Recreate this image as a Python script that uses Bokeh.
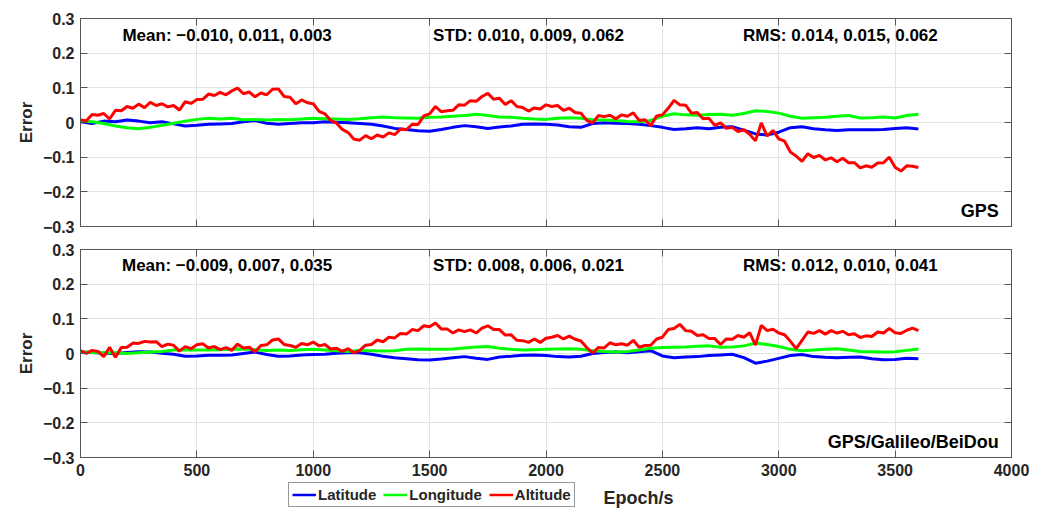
from bokeh.plotting import figure
from bokeh.layouts import column
from bokeh.models import Label, Legend, LegendItem, LinearAxis, FixedTicker
from bokeh.embed import file_html
from bokeh.resources import INLINE

# ---------------- data ----------------
epoch_fine = list(range(0, 3601, 25))     # altitude samples
epoch_coarse = list(range(0, 3601, 50))   # latitude / longitude samples

gps_alt = [
    0.007, 0.005, 0.023, 0.021, 0.026, 0.010, 0.035, 0.034,
    0.046, 0.041, 0.053, 0.043, 0.058, 0.049, 0.054, 0.045,
    0.049, 0.036, 0.060, 0.055, 0.066, 0.067, 0.082, 0.078,
    0.087, 0.080, 0.091, 0.099, 0.083, 0.088, 0.074, 0.085,
    0.080, 0.096, 0.097, 0.075, 0.073, 0.054, 0.065, 0.057,
    0.054, 0.032, 0.025, 0.006, -0.002, -0.020, -0.029, -0.048,
    -0.051, -0.038, -0.047, -0.036, -0.042, -0.030, -0.035, -0.019,
    -0.021, -0.005, -0.006, 0.019, 0.025, 0.046, 0.031, 0.034,
    0.035, 0.051, 0.050, 0.063, 0.061, 0.075, 0.084, 0.067,
    0.070, 0.052, 0.063, 0.046, 0.043, 0.033, 0.042, 0.039,
    0.051, 0.046, 0.049, 0.035, 0.041, 0.029, 0.027, 0.006,
    -0.001, 0.020, 0.017, 0.021, 0.011, 0.022, 0.018, 0.028,
    0.006, 0.008, -0.009, 0.019, 0.022, 0.041, 0.064, 0.051,
    0.050, 0.027, 0.029, 0.011, 0.012, -0.008, -0.001, -0.017,
    -0.014, -0.026, -0.021, -0.034, -0.053, -0.001, -0.039, -0.023,
    -0.047, -0.054, -0.085, -0.097, -0.112, -0.090, -0.101, -0.095,
    -0.108, -0.102, -0.113, -0.103, -0.116, -0.116, -0.131, -0.125,
    -0.129, -0.117, -0.116, -0.100, -0.129, -0.140, -0.125, -0.126,
    -0.130,
]

gps_lat = [
    0.002, -0.003, 0.004, 0.002, 0.007, 0.004, -0.001, 0.002,
    -0.004, -0.010, -0.008, -0.005, -0.004, -0.003, 0.002, 0.006,
    -0.002, -0.005, -0.003, -0.001, -0.001, 0.002, 0.001, -0.001,
    -0.003, -0.005, -0.010, -0.017, -0.020, -0.024, -0.025, -0.020,
    -0.014, -0.009, -0.012, -0.017, -0.013, -0.010, -0.005, -0.004,
    -0.005, -0.007, -0.012, -0.014, -0.003, -0.001, -0.002, -0.003,
    -0.005, -0.009, -0.014, -0.020, -0.018, -0.015, -0.018, -0.014,
    -0.012, -0.022, -0.033, -0.036, -0.028, -0.015, -0.012, -0.018,
    -0.021, -0.023, -0.021, -0.021, -0.021, -0.020, -0.017, -0.015,
    -0.019,
]

gps_lon = [
    0.004, 0.002, -0.003, -0.010, -0.015, -0.018, -0.014, -0.008,
    -0.002, 0.004, 0.009, 0.012, 0.010, 0.012, 0.008, 0.009,
    0.007, 0.009, 0.008, 0.010, 0.012, 0.011, 0.010, 0.009,
    0.011, 0.014, 0.016, 0.014, 0.013, 0.012, 0.015, 0.016,
    0.018, 0.020, 0.024, 0.020, 0.016, 0.015, 0.012, 0.010,
    0.009, 0.012, 0.014, 0.012, 0.008, 0.007, 0.006, 0.003,
    0.002, 0.006, 0.018, 0.025, 0.022, 0.021, 0.023, 0.024,
    0.021, 0.026, 0.034, 0.032, 0.027, 0.018, 0.012, 0.014,
    0.015, 0.018, 0.020, 0.013, 0.014, 0.016, 0.013, 0.020,
    0.024,
]

gce_alt = [
    0.008, 0.000, 0.009, 0.006, -0.009, 0.018, -0.011, 0.017,
    0.018, 0.030, 0.029, 0.035, 0.033, 0.034, 0.020, 0.027,
    0.024, 0.007, 0.020, 0.014, 0.025, 0.028, 0.016, 0.020,
    0.011, 0.017, 0.009, 0.027, 0.016, 0.018, 0.005, 0.023,
    0.025, 0.039, 0.042, 0.026, 0.023, 0.018, 0.029, 0.025,
    0.033, 0.022, 0.026, 0.013, 0.015, 0.006, 0.014, 0.002,
    0.009, 0.024, 0.026, 0.039, 0.034, 0.047, 0.045, 0.058,
    0.056, 0.069, 0.066, 0.080, 0.077, 0.088, 0.071, 0.071,
    0.059, 0.068, 0.063, 0.068, 0.059, 0.073, 0.080, 0.069,
    0.069, 0.053, 0.054, 0.038, 0.037, 0.032, 0.042, 0.032,
    0.044, 0.047, 0.052, 0.042, 0.050, 0.041, 0.036, 0.017,
    0.002, 0.017, 0.016, 0.031, 0.025, 0.028, 0.024, 0.038,
    0.018, 0.023, 0.024, 0.042, 0.047, 0.069, 0.072, 0.084,
    0.066, 0.064, 0.052, 0.054, 0.043, 0.043, 0.026, 0.042,
    0.041, 0.052, 0.047, 0.060, 0.024, 0.081, 0.066, 0.070,
    0.059, 0.054, 0.035, 0.014, 0.038, 0.062, 0.058, 0.066,
    0.056, 0.066, 0.059, 0.064, 0.054, 0.057, 0.046, 0.051,
    0.049, 0.062, 0.059, 0.072, 0.060, 0.058, 0.067, 0.073,
    0.066,
]

gce_lat = [
    0.004, 0.003, 0.001, 0.000, 0.003, 0.005, 0.004, 0.001,
    -0.002, -0.008, -0.007, -0.005, -0.005, -0.004, 0.000, 0.004,
    -0.003, -0.008, -0.007, -0.004, -0.003, -0.002, 0.001, 0.002,
    0.002, -0.002, -0.008, -0.012, -0.015, -0.018, -0.019, -0.016,
    -0.012, -0.009, -0.014, -0.017, -0.010, -0.008, -0.005, -0.004,
    -0.006, -0.009, -0.010, -0.008, 0.000, 0.003, 0.004, 0.002,
    0.005, 0.008, -0.007, -0.012, -0.010, -0.009, -0.006, -0.004,
    -0.002, -0.012, -0.028, -0.022, -0.014, -0.006, -0.003, -0.009,
    -0.011, -0.012, -0.011, -0.010, -0.015, -0.018, -0.017, -0.014,
    -0.015,
]

gce_lon = [
    0.005, 0.003, 0.002, 0.002, 0.000, 0.002, 0.004, 0.006,
    0.010, 0.011, 0.010, 0.010, 0.011, 0.012, 0.013, 0.011,
    0.009, 0.010, 0.009, 0.011, 0.012, 0.010, 0.008, 0.006,
    0.009, 0.008, 0.007, 0.008, 0.012, 0.013, 0.012, 0.012,
    0.013, 0.016, 0.019, 0.020, 0.015, 0.012, 0.010, 0.011,
    0.012, 0.013, 0.014, 0.012, 0.008, 0.006, 0.004, 0.006,
    0.010, 0.015, 0.017, 0.018, 0.019, 0.021, 0.022, 0.018,
    0.019, 0.022, 0.030, 0.026, 0.020, 0.012, 0.008, 0.010,
    0.012, 0.014, 0.010, 0.006, 0.005, 0.004, 0.005, 0.009,
    0.013,
]

stats_gps = ["Mean: \u22120.010, 0.011, 0.003", "STD: 0.010, 0.009, 0.062", "RMS: 0.014, 0.015, 0.062"]
stats_gce = ["Mean: \u22120.009, 0.007, 0.035", "STD: 0.008, 0.006, 0.021", "RMS: 0.012, 0.010, 0.041"]
stats_x = [630, 1925, 3265]
panel_names = ["GPS", "GPS/Galileo/BeiDou"]
series_names = ["Latitude", "Longitude", "Altitude"]
series_colors = ["#0000FF", "#00FF00", "#FF0000"]
x_title = "Epoch/s"
y_title = "Error"

x_ticks = [0, 500, 1000, 1500, 2000, 2500, 3000, 3500, 4000]
y_ticks = [-0.3, -0.2, -0.1, 0.0, 0.1, 0.2, 0.3]
y_labels = ["\u22120.3", "\u22120.2", "\u22120.1", "0", "0.1", "0.2", "0.3"]

FONT = "Liberation Sans"
TXT = "#262626"
EDGE = "#555555"


def style_axis(ax, ticks, show_labels):
    ax.ticker = FixedTicker(ticks=ticks)
    ax.major_tick_in = 7
    ax.major_tick_out = 0
    ax.minor_tick_in = 0
    ax.minor_tick_out = 0
    ax.axis_line_color = EDGE
    ax.major_tick_line_color = EDGE
    ax.major_label_text_font = FONT
    ax.major_label_text_font_style = "bold"
    if show_labels:
        ax.major_label_text_color = TXT
        ax.major_label_text_font_size = "16px"
        ax.major_label_standoff = 6
    else:
        ax.major_label_overrides = {t: "" for t in ticks}
        ax.major_label_text_color = None
        ax.major_label_text_font_size = "1px"
        ax.major_label_standoff = 0


def make_panel(lat, lon, alt, stats, name, stat_y, top_border, bottom_border, show_x):
    p = figure(frame_width=931, frame_height=208, x_range=(0, 4000), y_range=(-0.3, 0.3),
               output_backend="svg", toolbar_location=None,
               min_border_left=80, min_border_right=35,
               min_border_top=top_border, min_border_bottom=bottom_border)
    p.outline_line_color = EDGE
    p.background_fill_color = "white"
    p.border_fill_color = "white"
    for g in (p.xgrid, p.ygrid):
        g.grid_line_color = "#e3e3e3"
        g.grid_line_width = 1
    p.xgrid.ticker = FixedTicker(ticks=x_ticks)
    p.ygrid.ticker = FixedTicker(ticks=y_ticks)

    style_axis(p.xaxis[0], x_ticks, show_x)
    style_axis(p.yaxis[0], y_ticks, True)
    p.yaxis[0].major_label_overrides = {t: l for t, l in zip(y_ticks, y_labels)}
    p.yaxis[0].axis_label = y_title
    p.yaxis[0].axis_label_text_font = FONT
    p.yaxis[0].axis_label_text_font_style = "bold"
    p.yaxis[0].axis_label_text_font_size = "17px"
    p.yaxis[0].axis_label_text_color = TXT
    p.yaxis[0].axis_label_standoff = 4

    top_ax = LinearAxis()
    style_axis(top_ax, x_ticks, False)
    p.add_layout(top_ax, "above")
    right_ax = LinearAxis()
    style_axis(right_ax, y_ticks, False)
    p.add_layout(right_ax, "right")

    p.line(epoch_coarse, lat, line_color=series_colors[0], line_width=3)
    p.line(epoch_coarse, lon, line_color=series_colors[1], line_width=3)
    p.line(epoch_fine, alt, line_color=series_colors[2], line_width=3)

    for sx, st in zip(stats_x, stats):
        p.add_layout(Label(x=sx, y=stat_y, text=st, text_align="center", text_baseline="middle",
                           text_font=FONT, text_font_style="bold", text_font_size="17px",
                           text_color="black"))
    p.add_layout(Label(x=3945, y=-0.255, text=name, text_align="right", text_baseline="middle",
                       text_font=FONT, text_font_style="bold", text_font_size="18px",
                       text_color="black"))
    return p


p1 = make_panel(gps_lat, gps_lon, gps_alt, stats_gps, panel_names[0], 0.251, 18, 8, False)
p2 = make_panel(gce_lat, gce_lon, gce_alt, stats_gce, panel_names[1], 0.254, 15, 25, True)

# strip below the panels holding the legend and the x-axis title
# (same horizontal mapping as the panels, vertical axis in pixels)
p3 = figure(frame_width=931, frame_height=27, x_range=(0, 4000), y_range=(0, 27),
            output_backend="svg", toolbar_location=None,
            min_border_left=80, min_border_right=35,
            min_border_top=0, min_border_bottom=0)
p3.axis.visible = False
p3.grid.visible = False
p3.outline_line_color = None
p3.background_fill_color = "white"
p3.border_fill_color = "white"

legend_rends = [p3.line(x=[float("nan")], y=[float("nan")], line_color=c, line_width=2.5)
                for c in series_colors]
legend = Legend(items=[LegendItem(label=n, renderers=[r]) for n, r in zip(series_names, legend_rends)],
                orientation="horizontal", location=(208, 2),
                glyph_width=24, glyph_height=15, label_height=15, label_standoff=2,
                spacing=7, padding=3, margin=0,
                label_text_font=FONT, label_text_font_style="bold", label_text_font_size="15px",
                label_text_color=TXT, border_line_color="#333333", border_line_width=1,
                background_fill_color="white", background_fill_alpha=1.0)
p3.add_layout(legend, "center")
p3.add_layout(Label(x=2397, y=12, text=x_title, text_align="center", text_baseline="middle",
                    text_font=FONT, text_font_style="bold", text_font_size="18px", text_color=TXT))

layout = column(p1, p2, p3, spacing=0)
open("out.html", "w").write(file_html(layout, INLINE))
